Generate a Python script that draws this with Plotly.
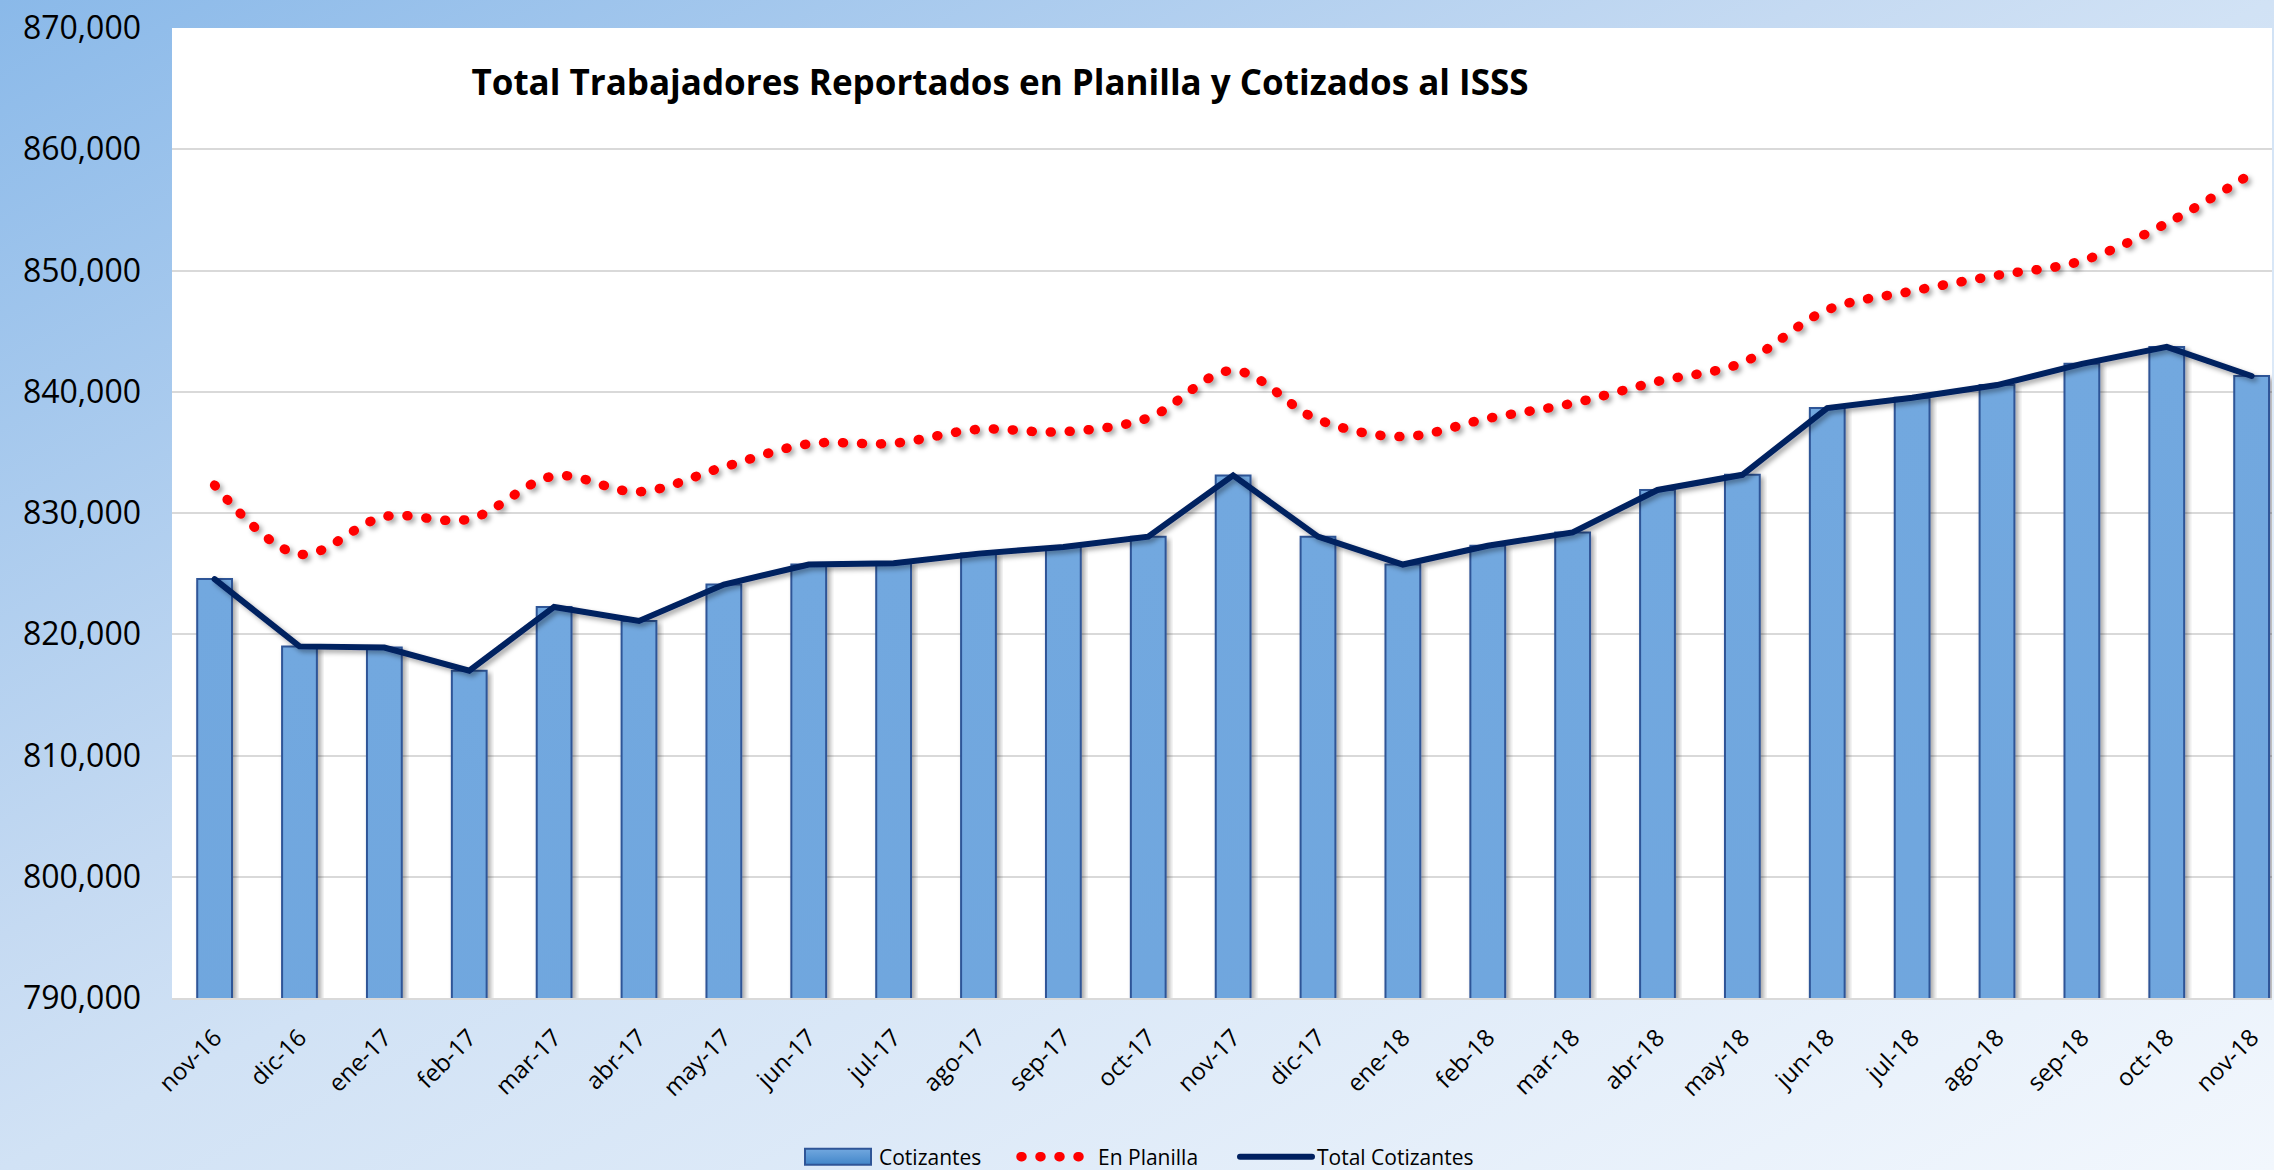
import base64
import plotly.graph_objects as go

# ---------------- data ----------------
months = ["nov-16", "dic-16", "ene-17", "feb-17", "mar-17", "abr-17", "may-17",
          "jun-17", "jul-17", "ago-17", "sep-17", "oct-17", "nov-17", "dic-17",
          "ene-18", "feb-18", "mar-18", "abr-18", "may-18", "jun-18", "jul-18",
          "ago-18", "sep-18", "oct-18", "nov-18"]

cotizantes = [824550, 819000, 818900, 817000, 822250, 821100, 824100,
              825750, 825850, 826650, 827200, 828050, 833100, 828050,
              825750, 827300, 828400, 831900, 833150, 838650, 839500,
              840550, 842300, 843700, 841300]

en_planilla = [832300, 826600, 829700, 829500, 833050, 831750, 833800,
               835700, 835750, 836900, 836700, 837850, 841750, 837700,
               836300, 837800, 839050, 840850, 842400, 846750, 848300,
               849600, 850800, 853900, 858000]

total_cotizantes = cotizantes

y_ticks = [790000, 800000, 810000, 820000, 830000, 840000, 850000, 860000, 870000]

title_text = "Total Trabajadores Reportados en Planilla y Cotizados al ISSS"

# ---------------- layout constants ----------------
W, H = 2274, 1170
ML, MR, MT, MB = 172, 2, 28, 172
PW, PH = W - ML - MR, H - MT - MB

FONT = "Open Sans, Lato, Noto Sans, sans-serif"

svg_bg = (
    "<svg xmlns='http://www.w3.org/2000/svg' width='2274' height='1170' "
    "preserveAspectRatio='none' viewBox='0 0 2274 1170'>"
    "<defs><linearGradient id='g' x1='0' y1='0' x2='1' y2='1'>"
    "<stop offset='0' stop-color='#8AB9E9'/>"
    "<stop offset='0.4' stop-color='#C5DAF2'/>"
    "<stop offset='0.5' stop-color='#D1E2F5'/>"
    "<stop offset='1' stop-color='#F2F7FD'/>"
    "</linearGradient></defs>"
    "<rect x='0' y='0' width='2274' height='1170' fill='url(#g)'/></svg>"
)
bg_uri = "data:image/svg+xml;base64," + base64.b64encode(svg_bg.encode()).decode()

fig = go.Figure()

fig.add_trace(go.Bar(
    x=months, y=cotizantes, name="Cotizantes", legendwidth=132,
    marker=dict(color="#5B9BD5", line=dict(color="#2F5597", width=2)),
))

fig.add_trace(go.Scatter(
    x=months, y=en_planilla, name="En Planilla", mode="lines", legendwidth=132,
    line=dict(color="#FF0000", width=9.5, dash="1px,18px", shape="spline", smoothing=1),
))

fig.add_trace(go.Scatter(
    x=months, y=total_cotizantes, name="Total Cotizantes", mode="lines", legendwidth=185,
    line=dict(color="#002060", width=6),
))

fig.update_layout(
    width=W, height=H,
    margin=dict(l=ML, r=MR, t=MT, b=MB, pad=0, autoexpand=False),
    paper_bgcolor="#C6DBF2",
    plot_bgcolor="white",
    bargap=0.59,
    font=dict(family=FONT, color="black"),
    title=dict(
        text="<b>" + title_text + "</b>",
        font=dict(family="Open Sans, sans-serif", size=35, color="black"),
        x=(1000 - ML) / PW, xref="paper", xanchor="center",
        y=1 - 83 / H, yref="container", yanchor="middle",
    ),
    showlegend=True,
    legend=dict(
        orientation="h", x=(797 - ML) / PW, xanchor="left",
        yref="container", y=1 - 1157 / H, yanchor="middle",
        font=dict(family=FONT, size=21, color="black"),
        bgcolor="rgba(0,0,0,0)", itemwidth=72, traceorder="normal",
    ),
    xaxis=dict(
        type="category", range=[-0.502, 24.24],
        tickangle=-45, tickfont=dict(family=FONT, size=24, color="black"),
        showgrid=False, showline=True, linecolor="#D9D9D9", linewidth=2,
        ticks="", ticklabelstandoff=14, automargin=False,
    ),
    yaxis=dict(
        range=[790000, 870000], tickvals=y_ticks, tickformat=",d",
        tickfont=dict(family=FONT, size=32, color="black"),
        showgrid=True, gridcolor="#D9D9D9", gridwidth=2,
        zeroline=False, showline=False, ticks="", ticklabelstandoff=30,
        automargin=False,
    ),
    images=[dict(
        source=bg_uri, xref="paper", yref="paper",
        x=-ML / PW, y=1 + MT / PH, sizex=W / PW, sizey=H / PH,
        xanchor="left", yanchor="top", sizing="stretch", layer="below",
    )],
    shapes=[dict(
        type="rect", xref="paper", yref="paper", x0=0, x1=1, y0=0, y1=1,
        fillcolor="white", line=dict(width=0), layer="below",
    )],
)

post = """
(function(){
  document.body.style.margin='0';
  document.body.style.overflow='hidden';
  var gd = document.getElementById('{plot_id}');
  var ns='http://www.w3.org/2000/svg';
  var svg = gd.querySelector('svg.main-svg');
  var defs = svg.querySelector('defs');
  var lg = document.createElementNS(ns,'linearGradient');
  lg.setAttribute('id','bargrad'); lg.setAttribute('x1','0'); lg.setAttribute('y1','0');
  lg.setAttribute('x2','0'); lg.setAttribute('y2','1');
  [['0','#72A8DF'],['1','#4286C9']].forEach(function(s){
    var st=document.createElementNS(ns,'stop'); st.setAttribute('offset',s[0]);
    st.setAttribute('stop-color',s[1]); lg.appendChild(st);});
  defs.appendChild(lg);
  var f = document.createElementNS(ns,'filter');
  f.setAttribute('id','shd'); f.setAttribute('x','-20%'); f.setAttribute('y','-20%');
  f.setAttribute('width','140%'); f.setAttribute('height','140%');
  var ds = document.createElementNS(ns,'feDropShadow');
  ds.setAttribute('dx','3'); ds.setAttribute('dy','3'); ds.setAttribute('stdDeviation','2.5');
  ds.setAttribute('flood-color','#000'); ds.setAttribute('flood-opacity','0.35');
  f.appendChild(ds); defs.appendChild(f);
  gd.querySelectorAll('.barlayer .point path').forEach(function(p){
    p.style.fill='url(#bargrad)'; p.setAttribute('filter','url(#shd)');});
  gd.querySelectorAll('.scatterlayer path.js-line').forEach(function(p){
    p.style.strokeLinecap='round'; p.setAttribute('filter','url(#shd)');});
  gd.querySelectorAll('.legend .legendlines path').forEach(function(p){
    p.style.strokeLinecap='round';});
  gd.querySelectorAll('.legend path.legendbar, .legend .legendpoints path').forEach(function(p){
    p.setAttribute('d','M-33,8H33V-8H-33Z'); p.style.fill='url(#bargrad)';});
})();
"""

fig.write_html("out.html", post_script=post, config={"displayModeBar": False})
